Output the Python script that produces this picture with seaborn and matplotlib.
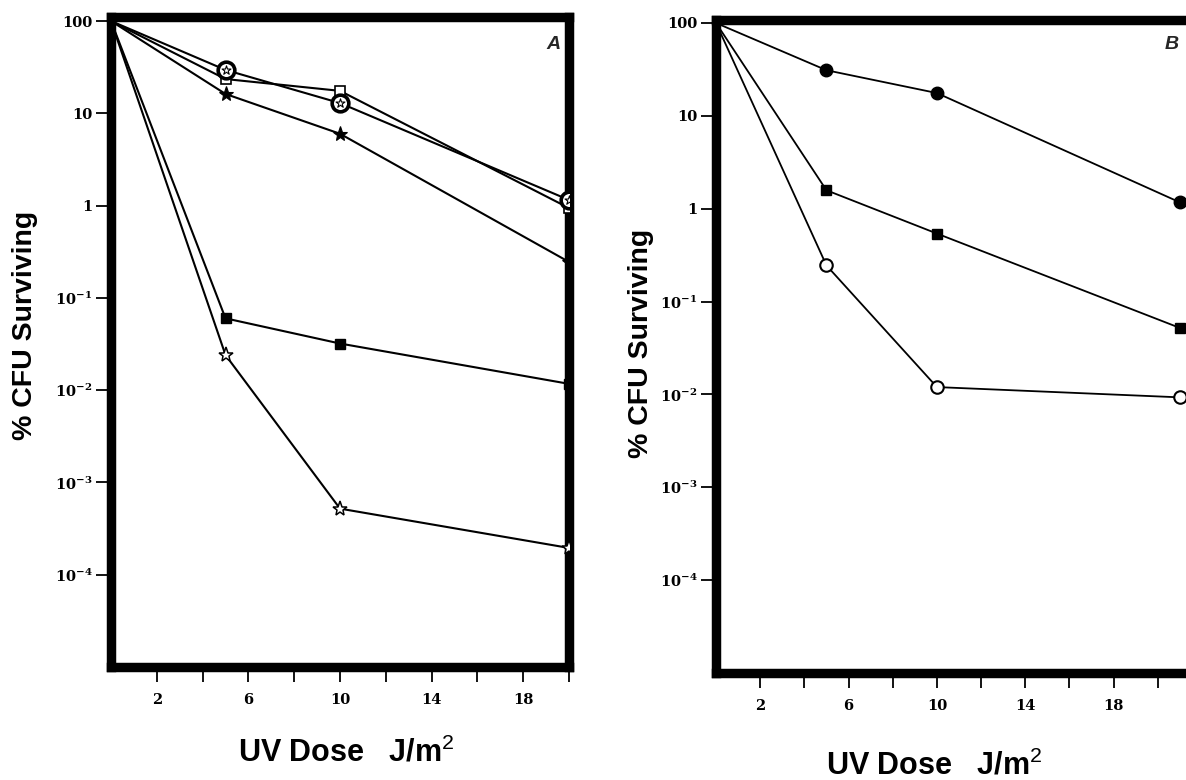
import matplotlib
matplotlib.use("Agg")
import matplotlib.pyplot as plt
import seaborn as sns
import pandas as pd
from matplotlib.ticker import FixedLocator, FixedFormatter, NullLocator

# ---------------- data ----------------
dose_a = [0, 5, 10, 20]
a_circle_star = [100, 29.5, 12.9, 1.15]
a_open_square = [100, 23.5, 17.5, 0.94]
a_filled_star = [100, 16.2, 6.0, 0.245]
a_filled_square = [100, 0.060, 0.032, 0.0117]
a_open_star = [100, 0.024, 0.00052, 0.000195]

dose_b = [0, 5, 10, 21]
b_filled_circle = [100, 31.0, 17.6, 1.17]
b_filled_square = [100, 1.58, 0.54, 0.052]
b_open_circle = [100, 0.245, 0.012, 0.0093]

y_ticks = [100, 10, 1, 0.1, 0.01, 0.001, 0.0001]
y_tick_labels = ["100", "10", "1", r"$10^{-1}$", r"$10^{-2}$", r"$10^{-3}$", r"$10^{-4}$"]
x_ticks = [2, 4, 6, 8, 10, 12, 14, 16, 18, 20]
x_tick_labels = ["2", "", "6", "", "10", "", "14", "", "18", ""]

# ---------------- style ----------------
sns.set_theme(style="white")
plt.rcParams["font.family"] = ["DejaVu Serif", "DejaVu Sans"]
plt.rcParams["mathtext.fontset"] = "custom"
plt.rcParams["mathtext.rm"] = "DejaVu Serif:bold"
plt.rcParams["mathtext.it"] = "DejaVu Serif:bold"
plt.rcParams["mathtext.bf"] = "DejaVu Serif:bold"
plt.rcParams["mathtext.sf"] = "Liberation Sans"

fig = plt.figure(figsize=(11.86, 7.80), dpi=100)
fig.patch.set_facecolor("white")
axA = fig.add_axes([111 / 1186, 1 - 667 / 780, 458 / 1186, 650 / 780])
axB = fig.add_axes([716 / 1186, 1 - 673 / 780, 486 / 1186, 653 / 780])

LW = 1.5


def series(ax, x, y, marker, ms, face, mew=1.2, lw=LW):
    df = pd.DataFrame({"dose": x, "surv": y})
    sns.lineplot(data=df, x="dose", y="surv", ax=ax, color="black", lw=lw,
                 marker=marker, markersize=ms, markerfacecolor=face,
                 markeredgecolor="black", markeredgewidth=mew,
                 markevery=[1, 2, 3], estimator=None, sort=False, zorder=3)


# Panel A
series(axA, dose_a, a_open_square, "s", 7, "white", 1.2)
series(axA, dose_a, a_circle_star, "o", 12, "white", 2.6)
dfs = pd.DataFrame({"dose": dose_a[1:], "surv": a_circle_star[1:]})
sns.scatterplot(data=dfs, x="dose", y="surv", ax=axA, marker="*", s=45,
                color="white", edgecolor="black", linewidth=0.8, zorder=5)
series(axA, dose_a, a_filled_star, "*", 11, "black", 0.8)
series(axA, dose_a, a_filled_square, "s", 7.5, "black", 1.0)
series(axA, dose_a, a_open_star, "*", 11, "white", 1.1)

# Panel B
series(axB, dose_b, b_filled_circle, "o", 9, "black", 1.0, 1.3)
series(axB, dose_b, b_filled_square, "s", 7.5, "black", 1.0, 1.3)
series(axB, dose_b, b_open_circle, "o", 9, "white", 1.5, 1.3)

label_font = {"family": "Liberation Sans", "weight": "bold"}

for ax, xmax, ytop in [(axA, 20, 110.5), (axB, 22, 107.7)]:
    ax.set_yscale("log")
    ax.set_ylim(1e-5, ytop)
    ax.set_xlim(0, xmax)
    for s in ax.spines.values():
        s.set_visible(True)
        s.set_color("black")
        s.set_linewidth(6.8)
        s.set_capstyle("projecting")
    ax.yaxis.set_major_locator(FixedLocator(y_ticks))
    ax.yaxis.set_major_formatter(FixedFormatter(y_tick_labels))
    ax.yaxis.set_minor_locator(NullLocator())
    ax.xaxis.set_major_locator(FixedLocator(x_ticks))
    ax.xaxis.set_major_formatter(FixedFormatter(x_tick_labels))
    ax.xaxis.set_minor_locator(NullLocator())
    ax.tick_params(axis="both", which="major", direction="out", length=10.5,
                   width=1.3, color="black", left=True, bottom=True,
                   labelcolor="black")
    ax.tick_params(axis="y", pad=3)
    ax.tick_params(axis="x", pad=8)
    for lab in ax.get_xticklabels() + ax.get_yticklabels():
        lab.set_fontfamily("DejaVu Serif")
        lab.set_fontweight("bold")
        lab.set_fontsize(10.5)
    ax.set_ylabel("% CFU Surviving", fontsize=20.5, color="black", **label_font)
    ax.set_xlabel("UV Dose   J/m$^{\\mathsf{2}}$", fontsize=22, color="black", **label_font)
    ax.grid(False)

axA.yaxis.set_label_coords(-0.160, 0.525)
axB.yaxis.set_label_coords(-0.128, 0.505)
axA.xaxis.set_label_coords(0.513, -0.108)
axB.xaxis.set_label_coords(0.45, -0.118)

axA.text(0.965, 0.958, "A", transform=axA.transAxes, ha="center", va="center",
         fontsize=14, fontweight="bold", fontstyle="italic", family="Liberation Sans")
axB.text(0.938, 0.963, "B", transform=axB.transAxes, ha="center", va="center",
         fontsize=14, fontweight="bold", fontstyle="italic", family="Liberation Sans")

fig.savefig("out.png", dpi=100, facecolor="white")
